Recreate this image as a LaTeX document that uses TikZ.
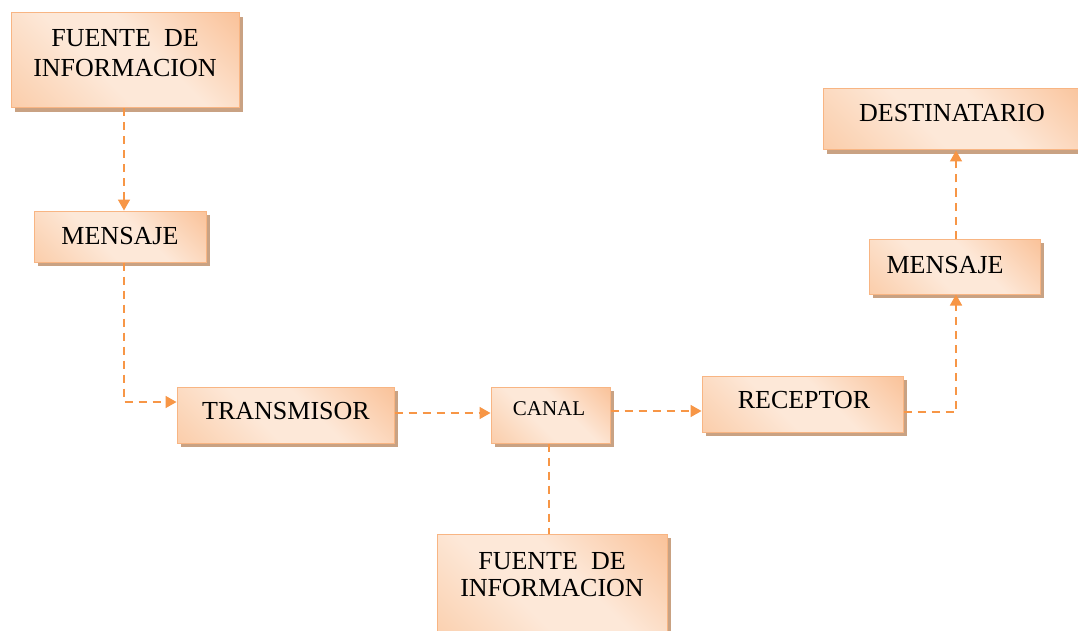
\documentclass[tikz,border=0pt]{standalone}
\usepackage{fontspec}
\setmainfont{Liberation Serif}
\usetikzlibrary{arrows.meta,shadows}
\definecolor{pdark}{HTML}{F8AE78}
\definecolor{plight}{HTML}{FDE8D8}
\definecolor{pmid}{HTML}{F9BF92}
\definecolor{pborder}{HTML}{F8B583}
\definecolor{pshadow}{HTML}{C9A283}
\definecolor{conncol}{HTML}{F79646}
\pgfdeclarehorizontalshading{peach}{100bp}{color(0bp)=(pdark); color(42bp)=(plight); color(58bp)=(plight); color(100bp)=(pmid)}
\tikzset{
  box/.style={rectangle, draw=pborder, line width=1pt, shading=peach, shading angle=225,
    inner sep=0pt, drop shadow={shadow xshift=4pt, shadow yshift=-4pt, fill=pshadow, opacity=1}},
  txt/.style={inner sep=0pt, align=center, font=\fontsize{26}{30}\selectfont, text=black},
  conn/.style={draw=conncol, line width=1.6pt, dash pattern=on 8pt off 6pt,
    -{Triangle[length=11pt,width=12pt,fill=conncol]}},
  plain/.style={draw=conncol, line width=1.6pt, dash pattern=on 8pt off 6pt}
}
\begin{document}
\begin{tikzpicture}[x=1pt,y=1pt]
\useasboundingbox (0,0) rectangle (1078,-631);
\clip (0,0) rectangle (1078,-631);
\fill[white] (0,0) rectangle (1078,-631);
% boxes
\node[box, minimum width=228pt, minimum height=95pt] (f1) at (125,-60.5) {};
\node[box, minimum width=172pt, minimum height=51pt] (m1) at (120,-236.5) {};
\node[box, minimum width=217pt, minimum height=56pt] (tr) at (285.5,-415) {};
\node[box, minimum width=119pt, minimum height=56pt] (can) at (550.5,-415) {};
\node[box, minimum width=201pt, minimum height=56pt] (rec) at (802.5,-404) {};
\node[box, minimum width=267pt, minimum height=61pt] (dest) at (956.5,-119.5) {};
\node[box, minimum width=171pt, minimum height=55pt] (m2) at (954.5,-266.5) {};
\node[box, minimum width=230pt, minimum height=116pt] (f2) at (552,-592) {};
% texts
\node[txt] (f1t) at (125,-53) {FUENTE\ \ DE\\INFORMACION};
\node[txt] (m1t) at (120,-236) {MENSAJE};
\node[txt] (trt) at (286,-411) {TRANSMISOR};
\node[txt, font=\fontsize{21}{25}\selectfont] (cant) at (549,-409) {CANAL};
\node[txt] (rect) at (804,-400) {RECEPTOR};
\node[txt] (destt) at (952,-113) {DESTINATARIO};
\node[txt] (m2t) at (945,-265) {MENSAJE};
\node[txt, font=\fontsize{26}{27}\selectfont] (f2t) at (552,-575) {FUENTE\ \ DE\\INFORMACION};
% connectors
\coordinate (a1) at ([xshift=-1pt]f1.south);
\draw[conn] (a1) -- (a1 |- m1.north);
\coordinate (a2) at ([xshift=4pt]m1.south);
\coordinate (a3) at ([yshift=13pt]tr.west);
\draw[conn] (a2) |- (a3);
\coordinate (a4) at ([yshift=2pt]tr.east);
\draw[conn] (a4) -- (a4 -| can.west);
\coordinate (a5) at ([yshift=4pt]can.east);
\draw[conn] (a5) -- (a5 -| rec.west);
\coordinate (a6) at ([yshift=-8pt]rec.east);
\coordinate (a7) at ([xshift=1.5pt]m2.south);
\draw[conn] (a6) -| (a7);
\coordinate (a8) at ([xshift=1.5pt]m2.north);
\draw[conn] (a8) -- (a8 |- dest.south);
\coordinate (a9) at ([xshift=-1.5pt]can.south);
\draw[plain] (a9) -- (a9 |- f2.north);
\end{tikzpicture}
\end{document}
